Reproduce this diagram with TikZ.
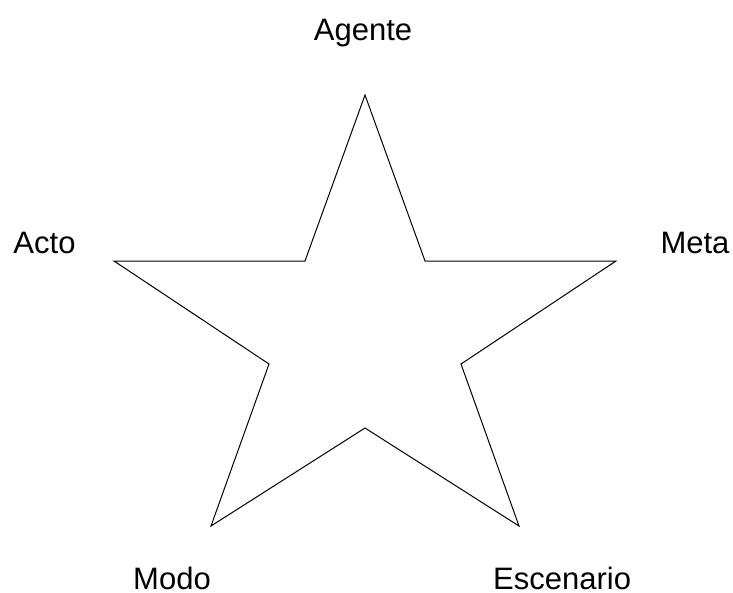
\documentclass[tikz,border=0pt]{standalone}
\usepackage{fontspec}
\setmainfont{Liberation Sans}
\begin{document}
\begin{tikzpicture}[x=1pt,y=-1pt,
  lbl/.style={font=\fontsize{31}{36}\selectfont, inner sep=0pt, anchor=base},
  starline/.style={draw=black, line width=1pt, line join=miter}]
\useasboundingbox (0,0) rectangle (733,592);
\coordinate (p1) at (365,95);
\coordinate (q1) at (425,261);
\coordinate (p2) at (616,261);
\coordinate (q2) at (461,364);
\coordinate (p3) at (519,526);
\coordinate (q3) at (365,428);
\coordinate (p4) at (211,526);
\coordinate (q4) at (269,364);
\coordinate (p5) at (114,261);
\coordinate (q5) at (305,261);
\draw[starline] (p1) -- (q1) -- (p2) -- (q2) -- (p3) -- (q3) -- (p4) -- (q4) -- (p5) -- (q5) -- cycle;
\node[lbl] (agente) at (363,40) {Agente};
\node[lbl] (acto) at (44.5,253) {Acto};
\node[lbl] (meta) at (695,253) {Meta};
\node[lbl] (modo) at (172,589) {Modo};
\node[lbl, anchor=base west] (escenario) at (493,589) {Escenario};
\end{tikzpicture}
\end{document}
